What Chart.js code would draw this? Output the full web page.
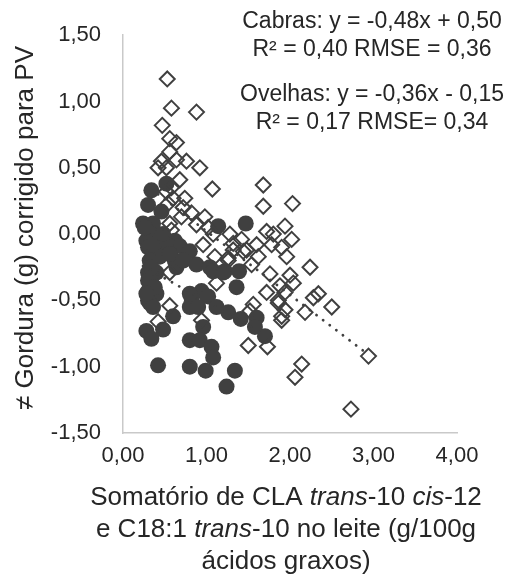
<!DOCTYPE html>
<html>
<head>
<meta charset="utf-8">
<script src="https://cdn.jsdelivr.net/npm/chart.js@4.4.0/dist/chart.umd.min.js"></script>
<style>
  html, body { margin: 0; padding: 0; background: #fff; }
  #wrap { width: 509px; height: 578px; }
</style>
</head>
<body>
<div id="wrap"><canvas id="fatChart" width="509" height="578"></canvas></div>
<script>
// Cabras (open diamonds)
const cabrasX = [0.53, 0.58, 0.88, 0.47, 0.56, 0.64, 0.56, 0.64, 0.46, 0.76, 0.42, 0.52, 0.92, 0.68, 0.58,
  1.07, 0.52, 0.74, 0.60, 0.54, 0.72, 0.82, 0.70, 0.98, 0.56, 0.88, 1.02, 0.58, 1.08, 1.68,
  1.68, 2.03, 1.94, 1.72, 1.80, 1.28, 1.42, 2.02, 1.60, 1.78, 1.90, 1.32, 1.48, 1.96, 1.10,
  1.62, 1.26, 1.76, 2.00, 1.12, 1.88, 1.72, 2.04, 1.86, 1.56, 1.94, 1.52, 1.90, 2.24, 2.34,
  2.28, 2.18, 2.50, 1.90, 2.94, 2.14, 2.06, 2.73, 1.73, 1.50, 0.96, 1.32, 1.44, 0.56, 0.56,
  0.42, 0.94, 1.94, 1.54, 1.26, 1.86];
const cabrasY = [1.17, 0.95, 0.92, 0.82, 0.72, 0.69, 0.62, 0.56, 0.55, 0.55, 0.50, 0.50, 0.50, 0.41, 0.35,
  0.34, 0.32, 0.27, 0.27, 0.23, 0.20, 0.16, 0.13, 0.13, 0.08, 0.07, 0.05, 0.03, 0.00, 0.37,
  0.21, 0.23, 0.06, 0.02, 0.00, 0.00, -0.04, -0.04, -0.08, -0.08, -0.10, -0.12, -0.12, -0.17, -0.17,
  -0.17, -0.18, -0.30, -0.31, -0.37, -0.39, -0.44, -0.37, -0.50, -0.53, -0.57, -0.58, -0.62, -0.25, -0.45,
  -0.48, -0.59, -0.55, -0.65, -0.92, -0.98, -1.08, -1.32, -0.85, -0.84, -0.08, -0.07, -0.13, -0.29, -0.54,
  -0.66, -0.65, -0.44, -0.23, -0.20, -0.52];

// Ovelhas (filled circles)
const ovelhasX = [0.52, 0.34, 0.30, 0.46, 0.24, 0.36, 1.14, 1.47, 0.32, 0.28, 0.44, 0.62, 0.68, 0.52, 0.80,
  0.36, 0.44, 0.62, 0.88, 0.64, 0.30, 0.40, 1.04, 1.08, 1.20, 1.22, 1.39, 0.34, 1.36, 0.30,
  0.40, 0.94, 0.82, 1.02, 0.32, 0.80, 0.90, 1.12, 1.26, 0.60, 1.41, 1.60, 1.58, 0.28, 0.48,
  0.34, 0.96, 1.70, 0.80, 0.92, 1.06, 1.08, 0.42, 0.80, 0.99, 1.34, 1.24, 0.26, 0.30, 0.36,
  0.32, 0.30, 0.38, 0.30, 0.36, 0.28, 0.34, 0.52, 0.56, 0.48, 0.72, 0.80];
const ovelhasY = [0.38, 0.33, 0.22, 0.17, 0.08, 0.08, 0.06, 0.08, 0.01, -0.05, -0.04, -0.05, -0.09, -0.12, -0.13,
  -0.17, -0.17, -0.20, -0.23, -0.25, -0.29, -0.29, -0.25, -0.28, -0.29, -0.28, -0.28, -0.37, -0.40, -0.43,
  -0.45, -0.43, -0.48, -0.47, -0.52, -0.55, -0.55, -0.55, -0.59, -0.62, -0.64, -0.63, -0.70, -0.73, -0.72,
  -0.79, -0.70, -0.77, -0.80, -0.80, -0.85, -0.93, -0.99, -1.00, -1.03, -1.03, -1.15, 0.05, -0.10, -0.08,
  -0.20, -0.35, -0.40, -0.50, -0.55, -0.45, -0.25, -0.05, -0.15, 0.00, -0.20, -0.45];

// trend lines (end points)
const cabrasTrendX = [0.42, 2.92];
const cabrasTrendY = [0.30, -0.90];
const ovelhasTrendX = [0.24, 1.70];
const ovelhasTrendY = [-0.24, -0.76];

const annotationLines = [
  ["Cabras: y = -0,48x + 0,50", 22],
  ["R\u00b2 = 0,40 RMSE = 0,36", 50],
  ["Ovelhas: y = -0,36x - 0,15", 95],
  ["R\u00b2 = 0,17 RMSE= 0,34", 123]
];
const yTitle = "\u2260 Gordura (g) corrigido para PV";
const xTitle = [
  [["Somat\u00f3rio de CLA ", false], ["trans", true], ["-10 ", false], ["cis", true], ["-12", false]],
  [["e C18:1 ", false], ["trans", true], ["-10 no leite (g/100g", false]],
  [["\u00e1cidos graxos)", false]]
];

const FONT = "'Liberation Sans', Arial, sans-serif";
const INK = "#262626";
const MARK = "#404040";

function toPoints(xs, ys) {
  return xs.map((x, i) => ({ x: x, y: ys[i] }));
}

function fmt(v) {
  return Number(v).toFixed(2).replace(".", ",");
}

const textPlugin = {
  id: "textPlugin",
  afterDraw(chart) {
    const ctx = chart.ctx;
    ctx.save();
    ctx.fillStyle = INK;

    // equations
    ctx.font = "23px " + FONT;
    ctx.textAlign = "center";
    ctx.textBaseline = "middle";
    annotationLines.forEach(([t, y]) => ctx.fillText(t, 372, y));

    // y title
    ctx.save();
    ctx.font = "26px " + FONT;
    ctx.translate(26, 228);
    ctx.rotate(-Math.PI / 2);
    ctx.fillText(yTitle, 0, 0);
    ctx.restore();

    // x title, with italic parts
    ctx.textAlign = "left";
    const ys = [498, 530, 562];
    xTitle.forEach((line, li) => {
      let w = 0;
      line.forEach(([t, it]) => {
        ctx.font = (it ? "italic " : "") + "26px " + FONT;
        w += ctx.measureText(t).width;
      });
      let x = 286 - w / 2;
      line.forEach(([t, it]) => {
        ctx.font = (it ? "italic " : "") + "26px " + FONT;
        ctx.fillText(t, x, ys[li]);
        x += ctx.measureText(t).width;
      });
    });
    ctx.restore();
  }
};

const ctx = document.getElementById("fatChart").getContext("2d");

const fatChart = new Chart(ctx, {
  type: "scatter",
  data: {
    datasets: [
      {
        label: "Cabras",
        data: toPoints(cabrasX, cabrasY),
        pointStyle: "rectRot",
        pointRadius: 7.5,
        borderColor: MARK,
        borderWidth: 2,
        backgroundColor: "rgba(0,0,0,0)",
        order: 1
      },
      {
        label: "Ovelhas",
        data: toPoints(ovelhasX, ovelhasY),
        pointStyle: "circle",
        pointRadius: 8,
        borderWidth: 0,
        backgroundColor: MARK,
        order: 2
      },
      {
        label: "Tendência Cabras",
        type: "line",
        data: toPoints(cabrasTrendX, cabrasTrendY),
        borderColor: MARK,
        borderWidth: 2.8,
        borderDash: [0.1, 8.2],
        borderCapStyle: "round",
        pointRadius: 0,
        fill: false,
        order: 0
      },
      {
        label: "Tendência Ovelhas",
        type: "line",
        data: toPoints(ovelhasTrendX, ovelhasTrendY),
        borderColor: MARK,
        borderWidth: 2.8,
        borderDash: [0.1, 8.2],
        borderCapStyle: "round",
        pointRadius: 0,
        fill: false,
        order: 0
      }
    ]
  },
  options: {
    responsive: false,
    animation: false,
    layout: { padding: { left: 0, top: 33, right: 52, bottom: 0 } },
    plugins: {
      legend: { display: false },
      tooltip: { enabled: false }
    },
    scales: {
      x: {
        type: "linear",
        min: 0,
        max: 4,
        grid: { display: false, drawTicks: false },
        border: { display: true, color: "#c9c9c9", width: 1.5 },
        ticks: {
          stepSize: 1,
          padding: 10,
          color: INK,
          font: { family: FONT, size: 22 },
          maxRotation: 0,
          callback: (v) => fmt(v)
        },
        afterFit: (s) => { s.height = 145; }
      },
      y: {
        type: "linear",
        min: -1.5,
        max: 1.5,
        grid: { display: false, drawTicks: false },
        border: { display: true, color: "#c9c9c9", width: 1.5 },
        ticks: {
          stepSize: 0.5,
          padding: 22,
          color: INK,
          font: { family: FONT, size: 22 },
          callback: (v) => fmt(v)
        },
        afterFit: (s) => { s.width = 123; }
      }
    }
  },
  plugins: [textPlugin]
});
</script>
</body>
</html>
